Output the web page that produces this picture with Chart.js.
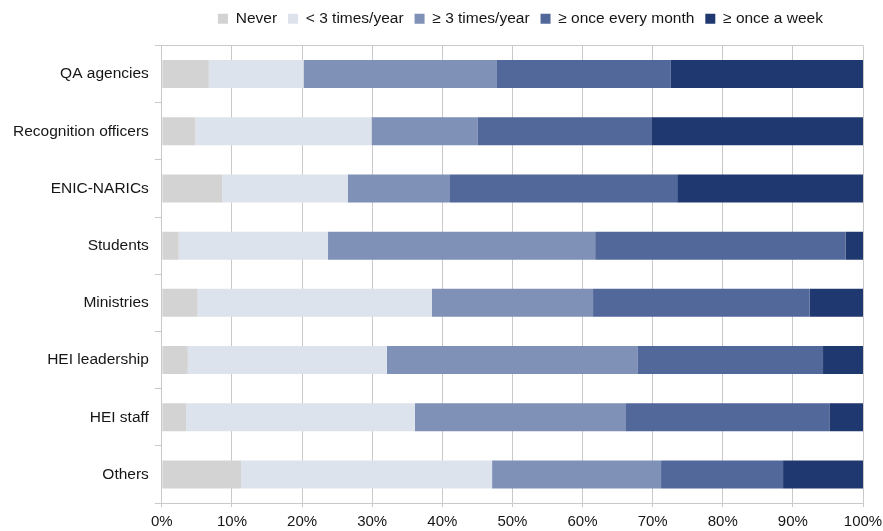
<!DOCTYPE html>
<html>
<head>
<meta charset="utf-8">
<script src="https://cdn.jsdelivr.net/npm/chart.js@4"></script>
<style>
    html, body { margin: 0; padding: 0; background: #ffffff; }
    #wrap { width: 883px; height: 531px; }
</style>
</head>
<body>
<div id="wrap"><canvas id="usageChart"></canvas></div>
<script>
// Respondent groups (top to bottom) and share per frequency band, in %
const groups = ['QA agencies', 'Recognition officers', 'ENIC-NARICs', 'Students', 'Ministries', 'HEI leadership', 'HEI staff', 'Others'];
const never        = [6.7, 4.8, 8.6, 2.4, 5.1, 3.7, 3.5, 11.3];
const under3Year   = [13.5, 25.1, 17.9, 21.3, 33.4, 28.4, 32.6, 35.8];
const atLeast3Year = [27.5, 15.1, 14.6, 38.1, 23.0, 35.8, 30.1, 24.1];
const monthly      = [24.9, 24.8, 32.4, 35.7, 30.9, 26.4, 29.0, 17.4];
const weekly       = [27.4, 30.2, 26.5, 2.5, 7.6, 5.7, 4.8, 11.4];
const xTicks = [0, 10, 20, 30, 40, 50, 60, 70, 80, 90, 100];

const FONT = 'Liberation Sans, Arial, sans-serif';
const GRID = '#c9c9c9';

function series(label, data, color) {
    return {
        label: label,
        data: data,
        backgroundColor: color,
        borderWidth: 0,
        barPercentage: 0.49,
        categoryPercentage: 1.0
    };
}

// a bit more room under the legend, and sit it over the middle of the plot
const legendNudge = {
    id: 'legendNudge',
    beforeLayout(chart) {
        const legend = chart.legend;
        if (legend && !legend._nudged) {
            const fit = legend.fit;
            legend.fit = function() {
                fit.call(this);
                this.height += 9;
            };
            legend._nudged = true;
        }
    },
    afterLayout(chart) {
        chart.legend.left += 8;
        chart.legend.right += 8;
    }
};

document.addEventListener('DOMContentLoaded', function() {
    const ctx = document.getElementById('usageChart').getContext('2d');
    new Chart(ctx, {
        type: 'bar',
        data: {
            labels: groups,
            datasets: [
                series('Never', never, '#d3d3d3'),
                series('< 3 times/year', under3Year, '#dde3ec'),
                series('\u2265 3 times/year', atLeast3Year, '#7f91b7'),
                series('\u2265 once every month', monthly, '#52679a'),
                series('\u2265 once a week', weekly, '#203870')
            ]
        },
        plugins: [legendNudge],
        options: {
            indexAxis: 'y',
            responsive: true,
            maintainAspectRatio: false,
            animation: false,
            layout: {
                padding: { left: 7, right: 0, top: 0, bottom: 0 }
            },
            plugins: {
                tooltip: { enabled: false },
                legend: {
                    position: 'top',
                    fullSize: false,
                    labels: {
                        boxWidth: 10,
                        boxHeight: 10,
                        padding: 11,
                        color: '#161616',
                        font: { family: FONT, size: 15.5 }
                    }
                }
            },
            scales: {
                x: {
                    stacked: true,
                    type: 'linear',
                    min: 0,
                    max: 100,
                    afterBuildTicks: function(axis) {
                        axis.ticks = xTicks.map(v => ({ value: v }));
                    },
                    afterFit: function(axis) {
                        // let the "100%" label run close to the canvas edge,
                        // and the percent labels sit low against the bottom
                        axis.paddingRight = 20;
                        axis.height -= 6;
                    },
                    ticks: {
                        color: '#161616',
                        padding: 6,
                        maxRotation: 0,
                        font: { family: FONT, size: 15 },
                        callback: v => v + '%'
                    },
                    grid: {
                        color: GRID,
                        tickLength: 4,
                        lineWidth: 1
                    },
                    border: { display: true, color: GRID }
                },
                y: {
                    stacked: true,
                    ticks: {
                        color: '#161616',
                        padding: 6,
                        font: { family: FONT, size: 15.5 }
                    },
                    grid: {
                        offset: true,
                        // only the top edge of the plot gets a line; the rest are tick marks
                        color: c => c.index === 0 ? GRID : 'rgba(0,0,0,0)',
                        tickColor: GRID,
                        tickLength: 7
                    },
                    border: { display: true, color: GRID }
                }
            }
        }
    });
});
</script>
</body>
</html>
